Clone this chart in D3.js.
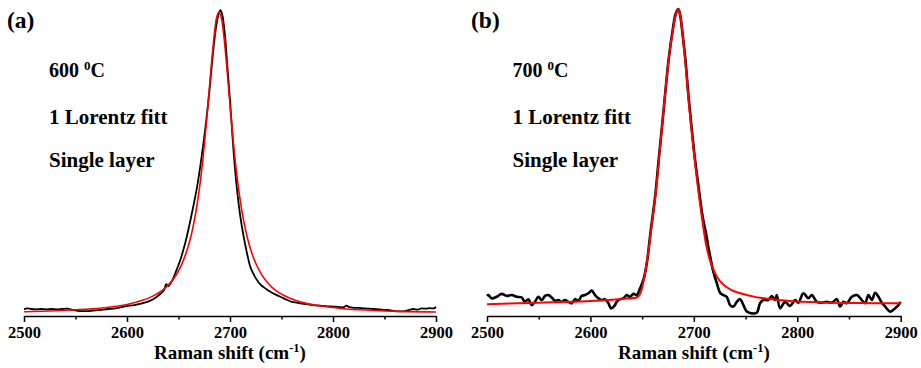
<!DOCTYPE html>
<html><head><meta charset="utf-8">
<script src="https://cdn.jsdelivr.net/npm/d3@7"></script>
<style>body{margin:0;background:#fff} svg{display:block}</style>
</head><body>
<svg id="chart" width="921" height="368"></svg>
<script>
// ---- data (Raman shift in cm^-1, normalised intensity) ----
const ticksMajor = [2500, 2600, 2700, 2800, 2900];
const ticksMinor = [2550, 2650, 2750, 2850];
const panelLabels = ["(a)", "(b)"];
const tempLabels = ["600", "700"];
const noteLines = ["1 Lorentz fitt", "Single layer"];
const xTitle = "Raman shift (cm";

const measuredA = [
 [2500,.008],[2503,.011],[2507,.009],[2512,.008],[2517,.009],[2522,.008],[2527,.009],[2532,.008],
 [2537,.009],[2542,.010],[2547,.006],[2552,.003],[2557,.002],[2562,.002],[2567,.004],[2572,.005],
 [2577,.007],[2582,.009],[2587,.010],[2592,.013],[2597,.017],[2602,.020],[2607,.022],[2612,.026],
 [2617,.030],[2622,.036],[2627,.045],[2632,.058],[2636,.072],[2638,.092],[2640,.085],[2644,.105],
 [2648,.138],[2652,.175],[2656,.222],[2660,.280],[2664,.345],[2668,.415],[2672,.505],[2676,.610],
 [2680,.735],[2684,.880],[2687,.960],[2689,.993],[2690.7,1.005],[2692.5,.990],[2695,.925],
 [2697.5,.815],[2700,.705],[2702.5,.580],[2705,.470],[2707.5,.385],[2710,.318],[2713,.255],
 [2716.5,.195],[2720,.147],[2725,.112],[2730,.089],[2735,.076],[2740,.065],[2745,.056],[2750,.048],
 [2755,.040],[2760,.033],[2765,.030],[2770,.027],[2775,.025],[2780,.022],[2785,.021],[2790,.019],
 [2795,.018],[2800,.017],[2805,.016],[2810,.015],[2813,.020],[2816,.015],[2820,.013],[2825,.013],
 [2830,.011],[2835,.010],[2840,.009],[2845,.008],[2850,.006],[2855,.005],[2860,.002],[2865,.001],
 [2870,.002],[2874,.006],[2878,.009],[2882,.007],[2886,.011],[2890,.010],[2894,.012],[2898,.011],
 [2900,.016]
];
const fitA = [
 [2500,.000],[2530,.003],[2560,.008],[2580,.014],[2600,.024],[2615,.038],[2625,.052],[2635,.073],
 [2642,.096],[2648,.124],[2653,.157],[2658,.202],[2662,.250],[2666,.316],[2670,.403],[2673,.487],
 [2676,.589],[2679,.705],[2682,.826],[2685,.932],[2687,.980],[2689.3,1.000],[2691.5,.981],
 [2694,.920],[2697,.811],[2700,.689],[2703,.574],[2706,.475],[2709,.393],[2713,.308],[2717,.245],
 [2721,.197],[2726,.154],[2731,.122],[2737,.095],[2744,.072],[2752,.055],[2762,.040],[2775,.027],
 [2790,.018],[2810,.010],[2835,.005],[2865,.001],[2900,-.001]
];
const measuredB = [
 [2500,.030],[2501.3,.032],[2504.5,.021],[2509.3,.026],[2514.2,.036],[2519,.029],[2523.9,.032],
 [2528.7,.026],[2533.5,.024],[2536.7,.009],[2540,.018],[2543.2,-.002],[2546.4,.009],[2549.6,.026],
 [2552.9,.015],[2556.1,.029],[2559.3,.032],[2562.5,.024],[2565.8,.013],[2569,.015],[2572.2,.009],
 [2575.4,.015],[2578.7,.009],[2581.9,.004],[2585.1,.018],[2588.3,.013],[2591.6,.029],[2594.8,.032],
 [2598,.038],[2601.2,.047],[2604.5,.032],[2607.7,.021],[2610.9,.015],[2614.1,.018],[2617.4,.004],
 [2620,-.013],[2623.2,-.005],[2625.4,.009],[2628.7,.018],[2631.9,.021],[2635.1,.032],[2638.3,.026],
 [2641.6,.036],[2644.8,.032],[2648,.055],[2651.2,.083],[2654.4,.137],[2658.3,.250],[2662.5,.363],
 [2666,.490],[2670,.630],[2673,.740],[2676,.840],[2679.6,.930],[2682.5,.985],[2685,1.000],
 [2687,.975],[2688.6,.930],[2691.8,.830],[2694.7,.710],[2697.5,.610],[2700.5,.510],[2704.2,.407],
 [2708.6,.295],[2711.5,.245],[2714,.195],[2718.9,.110],[2722.2,.072],[2725.3,.040],[2728.5,.032],
 [2731.8,.026],[2735,-.002],[2738.2,-.007],[2741.5,.009],[2744.7,.018],[2747.9,-.002],[2751.2,-.024],
 [2756,-.030],[2760.8,-.028],[2764,.004],[2767.2,.015],[2772,.015],[2775.3,.029],[2778.5,.015],
 [2780.2,.032],[2783.4,-.013],[2788.2,.009],[2793,-.005],[2797.9,.015],[2801.1,.006],[2805.9,.038],
 [2810.7,.021],[2814,.032],[2818.9,.009],[2823.7,.006],[2828.5,.009],[2833.4,.006],[2838.2,.018],
 [2841.4,-.007],[2844.6,.009],[2847.9,.004],[2852.7,.026],[2857.6,.032],[2862.4,.015],[2865.6,.004],
 [2868.8,.032],[2872.1,.015],[2875.3,.040],[2878.5,.026],[2881.7,.006],[2884.9,-.007],[2889.8,-.024],
 [2893.6,-.016],[2897.8,-.002],[2900,.009]
];
const fitB = [
 [2500,.001],[2550,.006],[2600,.012],[2630,.019],[2646,.026],[2649,.045],[2652,.090],[2656,.180],
 [2660,.290],[2664,.405],[2667,.520],[2670,.630],[2673,.740],[2676,.840],[2679.6,.925],[2682.5,.980],
 [2685,1.000],[2687,.975],[2688.6,.930],[2691.8,.820],[2694.7,.700],[2697.5,.600],[2700.5,.500],
 [2703.5,.410],[2708,.290],[2712,.200],[2716,.145],[2720,.110],[2725,.080],[2735,.051],[2745,.038],
 [2760,.025],[2793,.012],[2825,.007],[2860,.005],[2900,.004]
];

// ---- layout ----
const svg = d3.select("#chart");
const FONT = "'Liberation Serif','Times New Roman',serif";
const panels = [
  {x0: 24, x1: 436, yBase: 311.7, yTop: 11.7, data: measuredA, fit: fitA, dw: 1.8, fw: 1.6, lx: 7, tx: 49},
  {x0: 487, x1: 900.7, yBase: 304.5, yTop: 9, data: measuredB, fit: fitB, dw: 2.6, fw: 2.0, lx: 471, tx: 512.5}
];
const axisY = 316;

panels.forEach((p, i) => {
  const x = d3.scaleLinear().domain([2500, 2900]).range([p.x0, p.x1]);
  const y = d3.scaleLinear().domain([0, 1]).range([p.yBase, p.yTop]);
  const g = svg.append("g");

  const line = d3.line().x(d => x(d[0])).y(d => y(d[1])).curve(d3.curveCatmullRom.alpha(0.5));
  g.append("path").datum(p.data).attr("d", line)
    .attr("fill", "none").attr("stroke", "#000").attr("stroke-width", p.dw).attr("stroke-linejoin", "round");
  g.append("path").datum(p.fit).attr("d", line)
    .attr("fill", "none").attr("stroke", "#ff0000").attr("stroke-width", p.fw).attr("stroke-linejoin", "round");

  // minor ticks
  const minor = g.append("g").attr("transform", `translate(0,${axisY})`)
    .call(d3.axisBottom(x).tickValues(ticksMinor).tickSize(3.5).tickSizeOuter(0).tickFormat(""));
  minor.select(".domain").remove();
  minor.selectAll("line").attr("stroke-width", 1.5);
  // major axis
  const ax = g.append("g").attr("transform", `translate(0,${axisY})`)
    .call(d3.axisBottom(x).tickValues(ticksMajor).tickSize(6).tickSizeOuter(0).tickPadding(4.5).tickFormat(d3.format("d")));
  ax.select(".domain").attr("stroke-width", 1.6);
  ax.selectAll("line").attr("stroke-width", 1.5);
  ax.selectAll("text").attr("font-family", FONT).attr("font-weight", "bold").attr("font-size", 16.5).attr("fill", "#000");

  // axis title
  const t = g.append("text").attr("x", (p.x0 + p.x1) / 2).attr("y", 359).attr("text-anchor", "middle")
    .attr("font-family", FONT).attr("font-weight", "bold").attr("font-size", 19);
  t.append("tspan").text(xTitle);
  t.append("tspan").attr("dy", -7.5).attr("font-size", 12.5).text("-1");
  t.append("tspan").attr("dy", 7.5).text(")");

  // panel label
  g.append("text").attr("x", p.lx).attr("y", 28).attr("font-family", FONT).attr("font-weight", "bold")
    .attr("font-size", 23.5).text(panelLabels[i]);

  // annotations
  const t1 = g.append("text").attr("x", p.tx).attr("y", 77.3).attr("font-family", FONT)
    .attr("font-weight", "bold").attr("font-size", 20);
  t1.append("tspan").text(tempLabels[i] + " ");
  t1.append("tspan").attr("dy", -7.5).attr("font-size", 13).text("0");
  t1.append("tspan").attr("dy", 7.5).text("C");
  noteLines.forEach((s, k) => {
    g.append("text").attr("x", p.tx).attr("y", [124, 166.7][k]).attr("font-family", FONT)
      .attr("font-weight", "bold").attr("font-size", 21).text(s);
  });
});
</script>
</body></html>
